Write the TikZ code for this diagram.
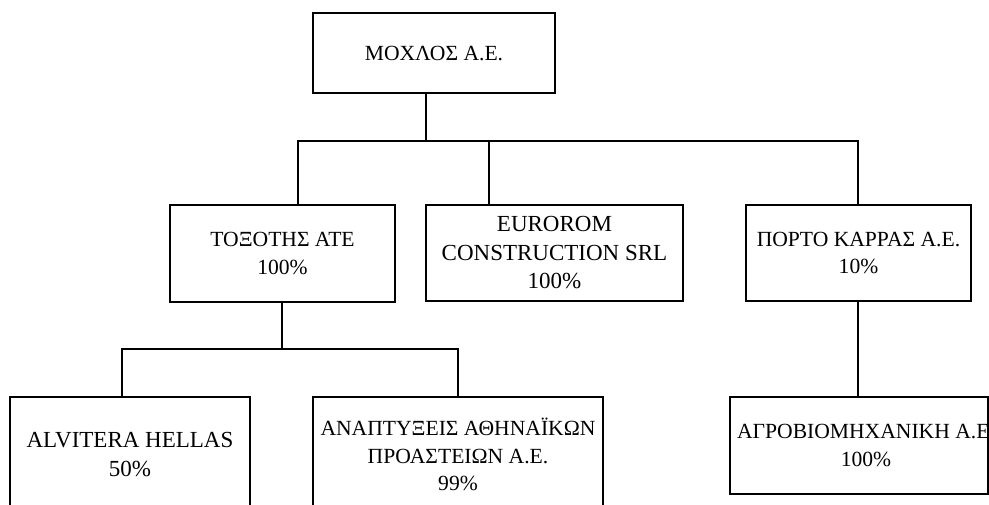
\documentclass[tikz,border=0pt]{standalone}
\usepackage{fontspec}
\setmainfont{Liberation Serif}
\begin{document}
\begin{tikzpicture}[x=1pt,y=-1pt,
  orgbox/.style={draw, line width=1.6pt, rectangle, inner sep=0pt, outer sep=0pt,
    align=center, anchor=north west, font=\fontsize{21.6}{27.5}\selectfont},
  latinbox/.style={orgbox, font=\fontsize{23}{28.5}\selectfont},
  link/.style={line width=1.6pt}]
\clip (0,0) rectangle (989,504);
\node[orgbox, minimum width=242pt, minimum height=80pt] (moch) at (313,13) {ΜΟΧΛΟΣ Α.Ε.};
\node[orgbox, minimum width=225pt, minimum height=97pt] (tox) at (170,205) {ΤΟΞΟΤΗΣ ΑΤΕ\\100\%};
\node[latinbox, minimum width=257pt, minimum height=96pt] (euro) at (426,205) {EUROROM\\CONSTRUCTION SRL\\100\%};
\node[orgbox, minimum width=225pt, minimum height=96pt] (porto) at (746,205) {ΠΟΡΤΟ ΚΑΡΡΑΣ Α.Ε.\\10\%};
\node[latinbox, minimum width=240pt, minimum height=115pt] (alv) at (10,397) {ALVITERA HELLAS\\50\%};
\node[orgbox, minimum width=290pt, minimum height=115pt] (ana) at (313,397) {ΑΝΑΠΤΥΞΕΙΣ ΑΘΗΝΑΪΚΩΝ\\ΠΡΟΑΣΤΕΙΩΝ Α.Ε.\\99\%};
\node[orgbox, minimum width=258pt, minimum height=97pt] (agro) at (730,397)
  {\makebox[0pt]{\hspace*{14pt}ΑΓΡΟΒΙΟΜΗΧΑΝΙΚΗ Α.Ε.}\\\makebox[0pt]{\hspace*{14pt}100\%}};
\coordinate (j) at (426,141);
\coordinate (d1) at (298,141);
\coordinate (d2) at (489,141);
\coordinate (d3) at (858,141);
\coordinate (f1) at (282,349);
\coordinate (e1) at (122,349);
\coordinate (e2) at (458,349);
\draw[link] (j |- moch.south) -- (j);
\draw[link] (d1 |- tox.north) -- (d1) -- (d3) -- (d3 |- porto.north);
\draw[link] (d2) -- (d2 |- euro.north);
\draw[link] (f1 |- tox.south) -- (f1);
\draw[link] (e1 |- alv.north) -- (e1) -- (e2) -- (e2 |- ana.north);
\draw[link] (d3 |- porto.south) -- (d3 |- agro.north);
\end{tikzpicture}
\end{document}
